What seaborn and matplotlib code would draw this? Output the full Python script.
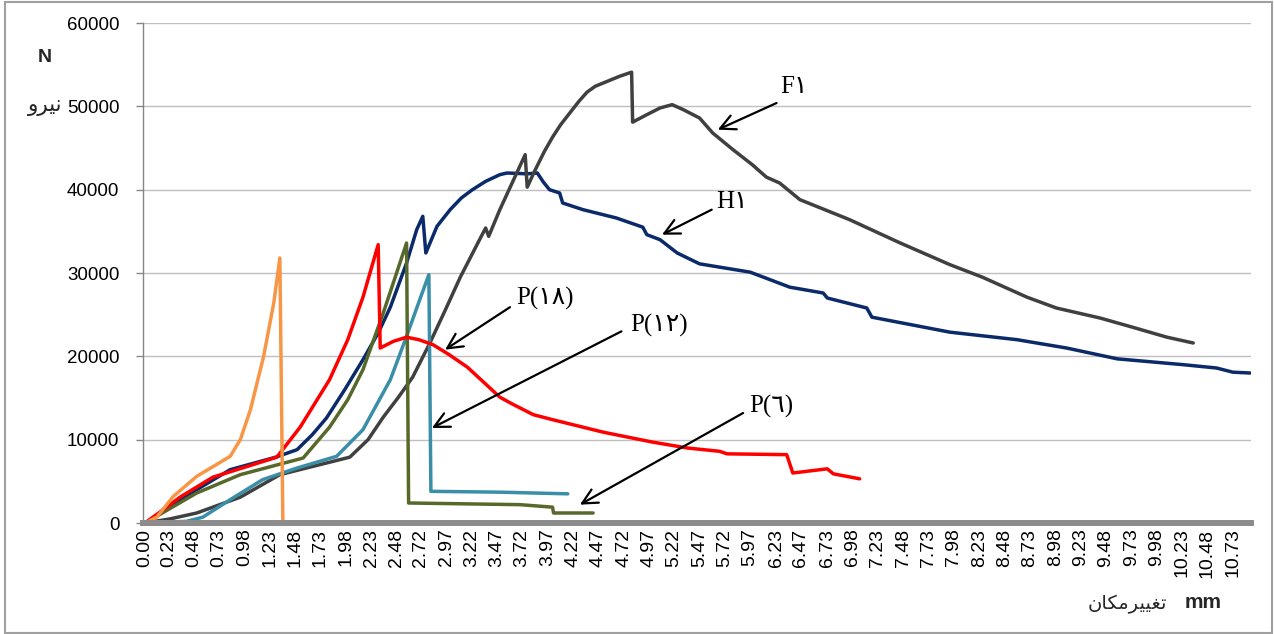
import matplotlib
matplotlib.use("Agg")
import matplotlib.pyplot as plt
from matplotlib.patches import Rectangle
import seaborn as sns
import pandas as pd

# ---------------- data (mm, N) ----------------
f1_x = [0.00, 0.25, 0.51, 0.94, 1.33, 2.02, 2.20, 2.35, 2.50, 2.64, 2.81, 2.96, 3.11, 3.30, 3.36, 3.39,
        3.50, 3.75, 3.77, 3.85, 3.94, 4.02, 4.10, 4.19, 4.28, 4.36, 4.44, 4.52, 4.68, 4.80, 4.81, 4.95,
        5.08, 5.20, 5.31, 5.47, 5.60, 5.80, 5.99, 6.13, 6.26, 6.46, 6.95, 7.45, 7.94, 8.26, 8.70, 8.99,
        9.42, 9.74, 10.08, 10.34]
f1_y = [0, 500, 1200, 3100, 5800, 7900, 10000, 12700, 15100, 17500, 21600, 25500, 29500, 34000, 35400, 34400,
        37600, 44200, 40300, 42400, 44600, 46300, 47800, 49200, 50600, 51700, 52400, 52800, 53600, 54100, 48100, 49000,
        49800, 50200, 49600, 48600, 46800, 44800, 43000, 41500, 40800, 38800, 36400, 33600, 31000, 29500, 27100, 25800,
        24600, 23500, 22300, 21600]

h1_x = [0.00, 0.345, 0.84, 1.29, 1.50, 1.65, 1.79, 1.97, 2.15, 2.30, 2.42, 2.58, 2.68, 2.74, 2.77, 2.88,
        3.01, 3.12, 3.23, 3.36, 3.50, 3.57, 3.77, 3.87, 3.93, 3.99, 4.09, 4.12, 4.32, 4.65, 4.91, 4.95,
        5.08, 5.25, 5.47, 5.97, 6.36, 6.69, 6.73, 7.12, 7.17, 7.94, 8.60, 9.09, 9.59, 10.24, 10.57,
        10.73, 10.90]
h1_y = [0, 2800, 6400, 7900, 8800, 10600, 12600, 16000, 19600, 22800, 25900, 31200, 35200, 36800, 32400, 35600,
        37600, 39000, 40000, 41000, 41800, 42000, 41900, 42000, 40900, 40000, 39600, 38400, 37600, 36600, 35500, 34600,
        34000, 32400, 31100, 30100, 28300, 27600, 27000, 25800, 24700, 22900, 22000, 21000, 19700, 19000, 18600,
        18100, 18000]

p18_x = [0.00, 0.18, 0.345, 0.67, 1.30, 1.53, 1.82, 2.00, 2.15, 2.30, 2.32, 2.45, 2.58, 2.70, 2.84, 3.00,
         3.18, 3.34, 3.50, 3.62, 3.83, 4.02, 4.52, 5.01, 5.35, 5.67, 5.74, 6.33, 6.39, 6.73, 6.79, 7.05]
p18_y = [0, 1600, 3100, 5500, 7900, 11500, 17200, 22000, 27100, 33400, 21000, 21800, 22300, 22000, 21400, 20200,
         18700, 16900, 15100, 14300, 13000, 12400, 10900, 9700, 9000, 8600, 8300, 8200, 6000, 6500, 5900, 5300]

p12_x = [0.00, 0.41, 0.57, 0.84, 1.16, 1.50, 1.89, 2.15, 2.42, 2.58, 2.71, 2.80, 2.82, 3.50, 4.17]
p12_y = [0, 200, 700, 2800, 5200, 6600, 8000, 11200, 17200, 22400, 26800, 29800, 3800, 3700, 3500]

p6_x = [0.00, 0.51, 0.94, 1.56, 1.82, 2.00, 2.15, 2.35, 2.58, 2.60, 3.70, 4.02, 4.03, 4.42]
p6_y = [0, 3600, 5800, 7800, 11500, 14800, 18400, 25200, 33600, 2400, 2200, 1900, 1200, 1200]

pa_x = [0.00, 0.115, 0.28, 0.51, 0.84, 0.94, 1.04, 1.17, 1.27, 1.33, 1.36]
pa_y = [0, 700, 3200, 5600, 8000, 10000, 13600, 20000, 26400, 31800, 0]

series_names = ["H1", "F1", "P12", "P6", "P18", "PA"]
series_colors = ["#0B2A6A", "#404040", "#3A8EA8", "#56692A", "#FF0000", "#F79646"]

x_tick_labels = ["0.00", "0.23", "0.48", "0.73", "0.98", "1.23", "1.48", "1.73", "1.98", "2.23",
                 "2.48", "2.72", "2.97", "3.22", "3.47", "3.72", "3.97", "4.22", "4.47", "4.72",
                 "4.97", "5.22", "5.47", "5.72", "5.97", "6.23", "6.47", "6.73", "6.98", "7.23",
                 "7.48", "7.73", "7.98", "8.23", "8.48", "8.73", "8.98", "9.23", "9.48", "9.73",
                 "9.98", "10.23", "10.48", "10.73"]
y_ticks = [0, 10000, 20000, 30000, 40000, 50000, 60000]

# annotation labels: (text, text position, arrow tail, arrow head)
ann_texts = ["F\u06F1", "H\u06F1", "P(\u06F1\u06F8)", "P(\u06F1\u06F2)", "P(\u0666)"]
ann_text_xy = [(6.27, 52300), (5.63, 38500), (3.66, 26900), (4.79, 23700), (5.96, 14000)]
ann_tail_xy = [(6.23, 50400), (5.59, 37600), (3.60, 25900), (4.70, 23000), (5.90, 13200)]
ann_head_xy = [(5.65, 47200), (5.10, 34600), (2.96, 20800), (2.83, 11400), (4.29, 2200)]

# Persian axis words (Arabic presentation forms, visual order)
y_word = "\uFEED\uFEAE\uFBFF\uFEE7"                              # نیرو
x_word = "\uFEE5\uFE8E\uFB91\uFEE3\uFEAE\uFBFF\uFBFF\uFED0\uFE97"  # تغییرمکان

# ---------------- build table ----------------
data = {"H1": (h1_x, h1_y), "F1": (f1_x, f1_y), "P12": (p12_x, p12_y),
        "P6": (p6_x, p6_y), "P18": (p18_x, p18_y), "PA": (pa_x, pa_y)}
rows = []
for name in series_names:
    xs, ys = data[name]
    for i, (a, b) in enumerate(zip(xs, ys)):
        rows.append({"series": name, "order": i, "x": a, "y": b})
df = pd.DataFrame(rows)

sns.set_theme(style="white")
plt.rcParams["font.family"] = ["Liberation Sans", "DejaVu Sans"]

fig = plt.figure(figsize=(12.74, 6.34), dpi=100)
ax = fig.add_axes([143 / 1274, 1 - 523 / 634, (1251 - 143) / 1274, 500 / 634])

for name, col in zip(series_names, series_colors):
    sub = df[df["series"] == name]
    sns.lineplot(data=sub, x="x", y="y", ax=ax, color=col, linewidth=2.5,
                 sort=False, estimator=None, legend=False,
                 solid_joinstyle="round", solid_capstyle="round")

ax.set_xlim(-0.02, 10.91)
ax.set_ylim(0, 60000)
ax.set_xticks([float(t) for t in x_tick_labels])
ax.set_xticklabels(x_tick_labels, rotation=90, fontsize=14, color="#000000")
ax.set_yticks(y_ticks)
ax.set_yticklabels([str(v) for v in y_ticks], fontsize=13.5, color="#000000")
ax.set_xlabel("")
ax.set_ylabel("")

ax.yaxis.grid(True, color="#BFBFBF", linewidth=1.0)
ax.xaxis.grid(False)
ax.set_axisbelow(True)
for s in ["top", "right"]:
    ax.spines[s].set_visible(False)
ax.spines["left"].set_color("#868686")
ax.spines["left"].set_linewidth(1.0)
ax.spines["bottom"].set_color("#8C8C8C")
ax.spines["bottom"].set_linewidth(4.3)
ax.spines["bottom"].set_zorder(5)
ax.tick_params(axis="y", which="both", left=True, length=5, width=1, color="#868686", pad=12)
ax.tick_params(axis="x", which="both", bottom=False, length=0, pad=4)

# annotations
for t, txy, tail, head in zip(ann_texts, ann_text_xy, ann_tail_xy, ann_head_xy):
    ax.annotate("", xy=head, xytext=tail,
                arrowprops=dict(arrowstyle="->,head_length=0.9,head_width=0.45",
                                color="black", lw=1.6, shrinkA=0, shrinkB=0))
    ax.text(txy[0], txy[1], t, ha="left", va="center", fontsize=18,
            family=["Liberation Serif", "DejaVu Sans"], color="black")

# axis titles
fig.text(45 / 1274, 1 - 57 / 634, "N", ha="center", va="center", fontsize=14, fontweight="bold")
fig.text(45 / 1274, 1 - 106 / 634, y_word, ha="center", va="center", fontsize=15.5,
         family=["DejaVu Sans"])
fig.text(1203 / 1274, 1 - 603 / 634, "mm", ha="center", va="center", fontsize=15, fontweight="bold")
fig.text(1127 / 1274, 1 - 604 / 634, x_word, ha="center", va="center", fontsize=14,
         family=["DejaVu Sans"])

# outer frame
fig.patches.append(Rectangle((5 / 1274, 1 / 634), (1272 - 5) / 1274, (631) / 634,
                             transform=fig.transFigure, fill=False,
                             edgecolor="#A0A0A0", linewidth=1.5))

fig.savefig("out.png", dpi=100)
